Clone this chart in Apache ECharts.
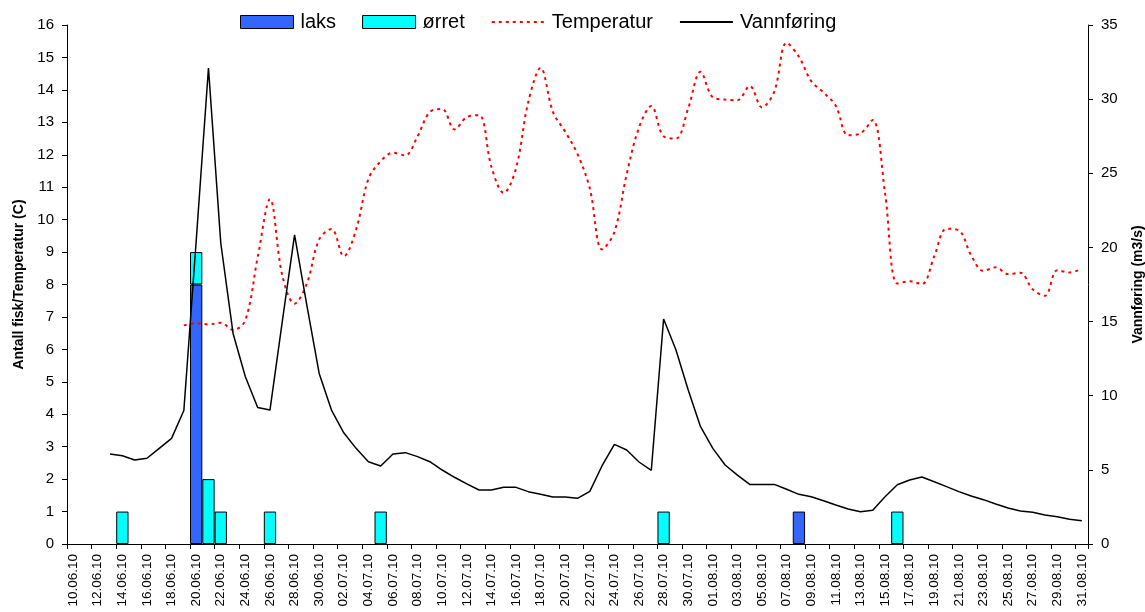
<!DOCTYPE html>
<html>
<head>
<meta charset="utf-8">
<script src="https://cdn.jsdelivr.net/npm/echarts@6/dist/echarts.min.js"></script>
<style>
html,body{margin:0;padding:0;background:#fff;}
#chart{width:1145px;height:612px;}
</style>
</head>
<body>
<div id="chart"></div>
<script>
var categories = [
'10.06.10','11.06.10','12.06.10','13.06.10','14.06.10','15.06.10','16.06.10','17.06.10','18.06.10','19.06.10',
'20.06.10','21.06.10','22.06.10','23.06.10','24.06.10','25.06.10','26.06.10','27.06.10','28.06.10','29.06.10',
'30.06.10','01.07.10','02.07.10','03.07.10','04.07.10','05.07.10','06.07.10','07.07.10','08.07.10','09.07.10',
'10.07.10','11.07.10','12.07.10','13.07.10','14.07.10','15.07.10','16.07.10','17.07.10','18.07.10','19.07.10',
'20.07.10','21.07.10','22.07.10','23.07.10','24.07.10','25.07.10','26.07.10','27.07.10','28.07.10','29.07.10',
'30.07.10','31.07.10','01.08.10','02.08.10','03.08.10','04.08.10','05.08.10','06.08.10','07.08.10','08.08.10',
'09.08.10','10.08.10','11.08.10','12.08.10','13.08.10','14.08.10','15.08.10','16.08.10','17.08.10','18.08.10',
'19.08.10','20.08.10','21.08.10','22.08.10','23.08.10','24.08.10','25.08.10','26.08.10','27.08.10','28.08.10',
'29.08.10','30.08.10','31.08.10'
];

var laks = [
null,null,null,null,null,null,null,null,null,null,
8,null,null,null,null,null,null,null,null,null,
null,null,null,null,null,null,null,null,null,null,
null,null,null,null,null,null,null,null,null,null,
null,null,null,null,null,null,null,null,null,null,
null,null,null,null,null,null,null,null,null,1,
null,null,null,null,null,null,null,null,null,null,
null,null,null,null,null,null,null,null,null,null,
null,null,null
];

var orret = [
null,null,null,null,1,null,null,null,null,null,
1,2,1,null,null,null,1,null,null,null,
null,null,null,null,null,1,null,null,null,null,
null,null,null,null,null,null,null,null,null,null,
null,null,null,null,null,null,null,null,1,null,
null,null,null,null,null,null,null,null,null,null,
null,null,null,null,null,null,null,1,null,null,
null,null,null,null,null,null,null,null,null,null,
null,null,null
];

var temperatur = [
null,null,null,null,null,null,null,null,null,6.74,
6.81,6.77,6.82,6.6,6.9,8.84,10.63,8.28,7.41,8.03,
9.39,9.71,8.87,9.69,11.25,11.8,12.06,11.98,12.57,13.32,
13.41,12.78,13.16,13.22,11.63,10.82,11.58,13.63,14.68,13.32,
12.71,12.02,10.96,9.08,9.62,11.4,12.84,13.5,12.57,12.5,
13.43,14.56,13.77,13.7,13.68,14.12,13.46,13.95,15.45,15.02,
14.27,13.92,13.51,12.6,12.66,13.07,10.82,8.03,8.1,8.01,
8.87,9.72,9.67,8.9,8.42,8.53,8.32,8.36,7.85,7.65,
8.44,8.37,8.48
];

var vannforing = [
null,null,null,6.07,5.95,5.66,5.78,6.45,7.12,9.0,
20.4,32.1,20.3,14.2,11.28,9.2,9.03,15.0,20.85,16.1,
11.5,9.03,7.5,6.45,5.55,5.26,6.07,6.16,5.89,5.55,
4.99,4.5,4.05,3.64,3.64,3.82,3.82,3.53,3.35,3.17,
3.17,3.08,3.55,5.28,6.72,6.34,5.53,4.97,15.17,13.1,
10.38,7.91,6.45,5.33,4.65,4.02,4.02,4.02,3.69,3.35,
3.19,2.92,2.63,2.36,2.18,2.27,3.19,4.0,4.32,4.52,
4.2,3.87,3.53,3.24,2.99,2.7,2.43,2.23,2.14,1.96,
1.84,1.67,1.57
];

var leftTicks = {min: 0, max: 16, interval: 1};
var rightTicks = {min: 0, max: 35, interval: 5};

var FONT = "'Liberation Sans', Arial, sans-serif";
var chart = echarts.init(document.getElementById('chart'), null, {renderer: 'canvas'});

chart.setOption({
  animation: false,
  backgroundColor: '#ffffff',
  textStyle: {fontFamily: FONT, color: '#000'},
  legend: {
    top: 12,
    left: 240,
    padding: 0,
    itemWidth: 53,
    itemHeight: 13,
    itemGap: 26,
    textStyle: {fontFamily: FONT, fontSize: 20, color: '#000', padding: [0, 0, 0, 2]},
    data: [
      {name: 'laks', icon: 'rect', itemStyle: {color: '#3366FF', borderColor: '#000', borderWidth: 1}},
      {name: 'ørret', icon: 'rect', itemStyle: {color: '#00FFFF', borderColor: '#000', borderWidth: 1}},
      {name: 'Temperatur', itemStyle: {opacity: 0}},
      {name: 'Vannføring', itemStyle: {opacity: 0}}
    ]
  },
  grid: {left: 67, right: 57, top: 25, bottom: 68, containLabel: false, outerBoundsMode: 'none'},
  xAxis: {
    type: 'category',
    data: categories,
    boundaryGap: true,
    axisLine: {lineStyle: {color: '#000', width: 1}},
    axisTick: {show: true, interval: 1, length: 5, lineStyle: {color: '#000'}},
    axisLabel: {interval: 1, rotate: 90, fontSize: 13.5, color: '#000', fontFamily: FONT, margin: 10},
    splitLine: {show: false}
  },
  yAxis: [
    {
      type: 'value',
      min: leftTicks.min, max: leftTicks.max, interval: leftTicks.interval,
      name: 'Antall fisk/Temperatur (C)',
      nameLocation: 'middle',
      nameRotate: 90,
      nameGap: 41,
      nameTextStyle: {fontFamily: FONT, fontSize: 14, fontWeight: 'bold', color: '#000'},
      axisLine: {show: true, lineStyle: {color: '#000', width: 1}},
      axisTick: {show: true, length: 5, lineStyle: {color: '#000'}},
      axisLabel: {fontSize: 15, color: '#000', fontFamily: FONT, margin: 13},
      splitLine: {show: false}
    },
    {
      type: 'value',
      position: 'right',
      min: rightTicks.min, max: rightTicks.max, interval: rightTicks.interval,
      name: 'Vannføring (m3/s)',
      nameLocation: 'middle',
      nameRotate: 90,
      nameGap: 43,
      nameTextStyle: {fontFamily: FONT, fontSize: 14, fontWeight: 'bold', color: '#000'},
      axisLine: {show: true, lineStyle: {color: '#000', width: 1}},
      axisTick: {show: true, length: 5, lineStyle: {color: '#000'}},
      axisLabel: {fontSize: 15, color: '#000', fontFamily: FONT, margin: 13},
      splitLine: {show: false}
    }
  ],
  series: [
    {
      name: 'laks', type: 'bar', stack: 'fisk', yAxisIndex: 0,
      data: laks,
      barWidth: '100%',
      barCategoryGap: '0%',
      itemStyle: {color: '#3366FF', borderColor: '#000', borderWidth: 1}
    },
    {
      name: 'ørret', type: 'bar', stack: 'fisk', yAxisIndex: 0,
      data: orret,
      barWidth: '100%',
      barCategoryGap: '0%',
      itemStyle: {color: '#00FFFF', borderColor: '#000', borderWidth: 1}
    },
    {
      name: 'Temperatur', type: 'line', yAxisIndex: 0,
      data: temperatur,
      smooth: 0.35,
      symbol: 'none',
      connectNulls: false,
      itemStyle: {color: '#FF0000'},
      lineStyle: {color: '#FF0000', width: 2, type: [3, 4]}
    },
    {
      name: 'Vannføring', type: 'line', yAxisIndex: 1,
      data: vannforing,
      smooth: false,
      symbol: 'none',
      itemStyle: {color: '#000'},
      lineStyle: {color: '#000', width: 1.5, type: 'solid'}
    }
  ]
});
</script>
</body>
</html>
